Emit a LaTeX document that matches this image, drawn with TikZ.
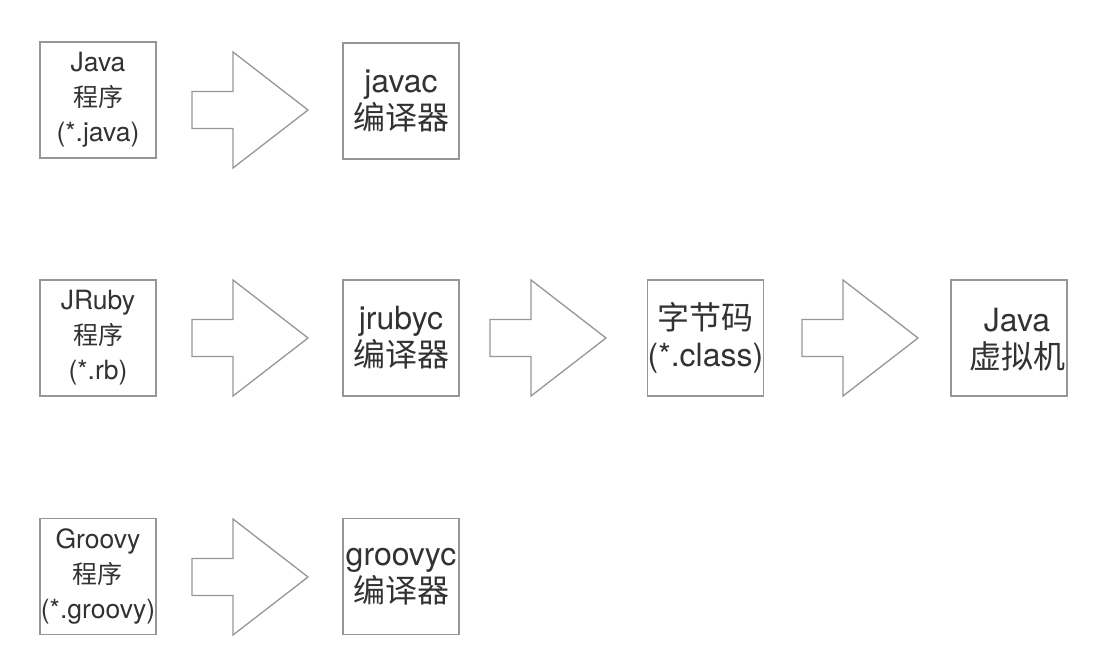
\documentclass[tikz,border=0pt]{standalone}
\usepackage{fontspec}
\usepackage{tikz}
\setmainfont{TeX Gyre Heros}
\newfontfamily\cjk{Noto Sans CJK SC}
\definecolor{boxgray}{RGB}{150,150,150}
\definecolor{textgray}{RGB}{50,50,50}
\newcommand{\zhsmall}[1]{{\cjk\fontsize{25}{35}\selectfont #1}}
\newcommand{\drawBigArrow}[2]{
\draw [bigarrow] (#1,#2-18.5) -- (#1+41,#2-18.5) -- (#1+41,#2-58) -- (#1+116,#2) -- (#1+41,#2+58) -- (#1+41,#2+18.5) -- (#1,#2+18.5) -- cycle;
}

\begin{document}
\begin{tikzpicture}[x=1pt,y=-1pt,
  stagebox/.style={draw=boxgray,line width=1.3pt,minimum width=116pt,minimum height=116pt,inner sep=0pt,align=center,text=textgray},
  smalltext/.style={font=\fontsize{26.5}{35}\selectfont},
  bigtext/.style={font=\fontsize{32}{37}\selectfont,text=textgray,align=center},
  bigarrow/.style={draw=boxgray,line width=1.3pt,line join=miter}]
\useasboundingbox (0,0) rectangle (1108,671);
% Java row
\node (javasrc) at (98,100) [stagebox,smalltext] {Java\\\zhsmall{程序}\\(*.java)};
\node (javac) at (401,101) [stagebox,bigtext] {javac\\{\cjk 编译器}};
\drawBigArrow{192}{110}
% JRuby row
\node (rubysrc) at (98,338) [stagebox,smalltext] {JRuby\\\zhsmall{程序}\\(*.rb)};
\node (jrubyc) at (401,338) [stagebox,bigtext] {jrubyc\\{\cjk 编译器}};
\node (bytecode) at (705.5,338) [stagebox,bigtext] {{\cjk 字节码}\\(*.class)};
\node (jvm) at (1009,338) [stagebox] {};
\node (jvmtext) at (1017,340) [bigtext] {Java\\{\cjk 虚拟机}};
\drawBigArrow{192}{338}
\drawBigArrow{490}{338}
\drawBigArrow{802}{338}
% Groovy row
\node (groovysrc) at (98,576.5) [stagebox,smalltext] {Groovy\\\zhsmall{程序}\\(*.groovy)};
\node (groovyc) at (401,576.5) [stagebox,bigtext] {groovyc\\{\cjk 编译器}};
\drawBigArrow{192}{577}
\end{tikzpicture}
\end{document}
